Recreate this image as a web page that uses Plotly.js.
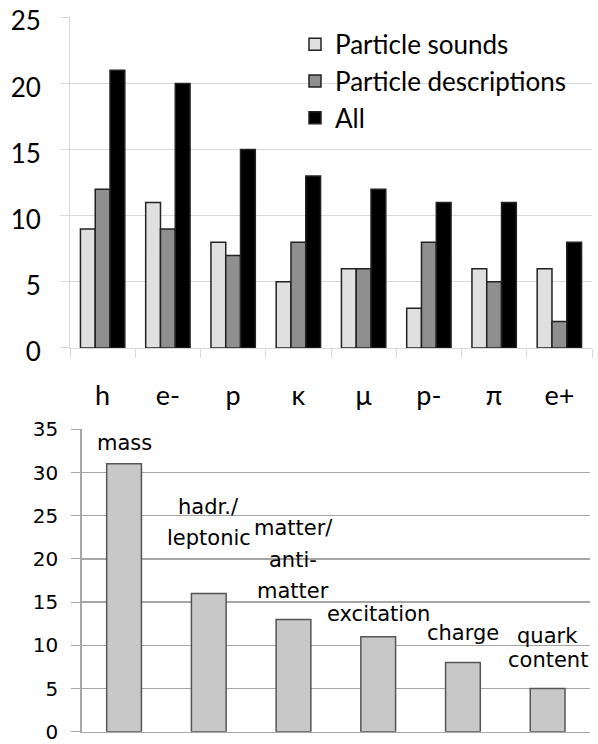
<!DOCTYPE html>
<html>
<head>
<meta charset="utf-8">
<script src="https://cdn.plot.ly/plotly-3.0.1.min.js"></script>
<style>html,body{margin:0;padding:0;background:#fff;}#chart{width:598px;height:744px;}</style>
</head>
<body>
<div id="chart"></div>
<script>
// ---- data ----
const particles = ["h", "e-", "p", "κ", "μ", "p-", "π", "e+"];
const particleSounds = [9, 11, 8, 5, 6, 3, 6, 6];
const particleDescriptions = [12, 9, 7, 8, 6, 8, 5, 2];
const allCounts = [21, 20, 15, 13, 12, 11, 11, 8];

const properties = ["mass", "hadr./leptonic", "matter/anti-matter", "excitation", "charge", "quark content"];
const propertyCounts = [31, 16, 13, 11, 8, 5];
const propertyLabelLines = [["mass"], ["hadr./", "leptonic"], ["matter/", "anti-", "matter"], ["excitation"], ["charge"], ["quark", "content"]];

// ---- label placement (pixels above bar top for last line baseline, and line spacing) ----
const labelBaseOffset = [14, 48, 21, 16, 23, 22];
const labelLineGap = [31, 31, 31.5, 31, 31, 24];

const traces = [
  {type: "bar", name: "Particle sounds", x: particles, y: particleSounds, xaxis: "x", yaxis: "y",
   marker: {color: "#e0e0e0", line: {color: "#222", width: 1.5}}},
  {type: "bar", name: "Particle descriptions", x: particles, y: particleDescriptions, xaxis: "x", yaxis: "y",
   marker: {color: "#8f8f8f", line: {color: "#222", width: 1.5}}},
  {type: "bar", name: "All", x: particles, y: allCounts, xaxis: "x", yaxis: "y",
   marker: {color: "#000000", line: {color: "#222", width: 1.5}}},
  {type: "bar", name: "Properties", x: properties, y: propertyCounts, xaxis: "x2", yaxis: "y2",
   width: 0.41, showlegend: false,
   marker: {color: "#c8c8c8", line: {color: "#555", width: 1.5}}}
];

const annotations = [];
propertyLabelLines.forEach((lines, i) => {
  const n = lines.length;
  lines.forEach((ln, j) => {
    annotations.push({
      x: properties[i], y: propertyCounts[i], xref: "x2", yref: "y2",
      text: ln, showarrow: false, xanchor: "center", yanchor: "middle",
      yshift: labelBaseOffset[i] + (n - 1 - j) * labelLineGap[i] + 7,
      font: {family: "DejaVu Sans", size: 21, color: "#000"}
    });
  });
});

const layout = {
  width: 598, height: 744,
  margin: {l: 0, r: 0, t: 0, b: 0},
  paper_bgcolor: "#fff", plot_bgcolor: "rgba(0,0,0,0)",
  font: {family: "Lato", color: "#000", size: 24},
  barmode: "group", bargap: 0.32, bargroupgap: 0,
  showlegend: true,
  legend: {x: 0.4933, y: 0.972, xanchor: "left", yanchor: "top",
           bgcolor: "rgba(0,0,0,0)", font: {family: "Lato", size: 26, color: "#000"},
           traceorder: "normal", tracegroupgap: 0},
  xaxis: {domain: [0.11706, 0.98997], anchor: "y", type: "category",
          showgrid: false, showline: true, linecolor: "#d9d9d9", linewidth: 1,
          ticks: "outside", tickson: "boundaries", ticklen: 9, tickcolor: "#d9d9d9",
          ticklabelstandoff: 24, tickfont: {family: "Lato", size: 27, color: "#000"}, zeroline: false},
  yaxis: {domain: [0.53226, 0.97675], anchor: "x", range: [0, 25], dtick: 5,
          showgrid: true, gridcolor: "#d9d9d9", gridwidth: 1,
          showline: true, linecolor: "#d9d9d9", ticks: "outside", ticklen: 9, tickcolor: "#d9d9d9",
          ticklabelstandoff: 14, ticklabelshift: 4, ticklabeloverflow: "allow", zeroline: false,
          tickfont: {family: "Lato", size: 26, color: "#000"}},
  xaxis2: {domain: [0.13662, 0.98662], anchor: "y2", type: "category",
           showgrid: false, showline: true, linecolor: "#a6a6a6", linewidth: 1.5,
           ticks: "", showticklabels: false, zeroline: false},
  yaxis2: {domain: [0.01653, 0.42298], anchor: "x2", range: [0, 35], dtick: 5,
           showgrid: true, gridcolor: "#a6a6a6", gridwidth: 1.5,
           showline: true, linecolor: "#a6a6a6", linewidth: 1.5, ticks: "outside", ticklen: 9, tickcolor: "#a6a6a6",
           ticklabelstandoff: 9, ticklabelshift: 0, ticklabeloverflow: "allow", zeroline: false,
           tickfont: {family: "DejaVu Sans", size: 20, color: "#000"}},
  shapes: [{type: "rect", xref: "paper", yref: "paper", x0: 0.418, x1: 1, y0: 0.8118, y1: 0.9704,
            fillcolor: "#ffffff", line: {width: 0}, layer: "between"}],
  annotations: annotations
};

Plotly.newPlot("chart", traces, layout, {displayModeBar: false, staticPlot: true});
</script>
</body>
</html>
